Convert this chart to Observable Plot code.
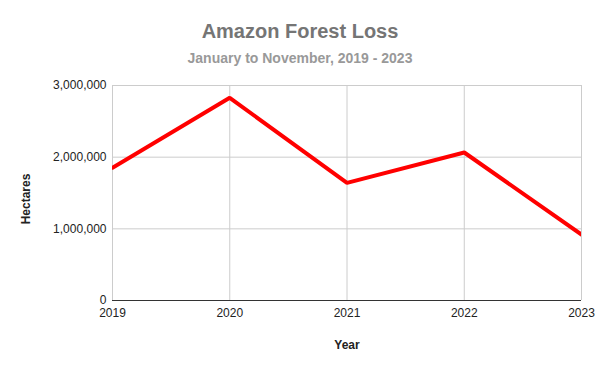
<!DOCTYPE html>
<html>
<head>
<meta charset="utf-8">
<script src="https://cdn.jsdelivr.net/npm/d3@7"></script>
<script src="https://cdn.jsdelivr.net/npm/@observablehq/plot@0.6"></script>
<style>
  body { margin: 0; background: #fff; font-family: Arial, "Liberation Sans", sans-serif; }
  #wrap { position: relative; width: 600px; height: 371px; overflow: hidden; }
  #title { position: absolute; left: 0; width: 600px; top: 20px; text-align: center;
           font-size: 20px; font-weight: bold; color: #757575; line-height: 22px; }
  #subtitle { position: absolute; left: 0; width: 600px; top: 50px; text-align: center;
           font-size: 14px; font-weight: bold; color: #999999; line-height: 16px; }
  #chart { position: absolute; left: 0; top: 70px; }
</style>
</head>
<body>
<div id="wrap">
  <div id="title">Amazon Forest Loss</div>
  <div id="subtitle">January to November, 2019 - 2023</div>
  <div id="chart"></div>
</div>
<script>
const years = [2019, 2020, 2021, 2022, 2023];
const hectares = [1852000, 2828000, 1642000, 2065000, 921000];
const yTicks = [0, 1000000, 2000000, 3000000];
const xLabel = "Year";
const yLabel = "Hectares";

const data = years.map((y, i) => ({year: y, value: hectares[i]}));

const chart = Plot.plot({
  width: 600,
  height: 301,
  marginTop: 15,
  marginLeft: 112,
  marginRight: 19,
  marginBottom: 71,
  style: {fontFamily: "Arial, 'Liberation Sans', sans-serif", fontSize: "12px", color: "#222", background: "transparent"},
  x: {domain: [2019, 2023], label: null},
  y: {domain: [0, 3000000], label: null},
  marks: [
    Plot.gridX(years, {stroke: "#cccccc", strokeOpacity: 1}),
    Plot.gridY(yTicks, {stroke: "#cccccc", strokeOpacity: 1}),
    Plot.ruleY([0], {stroke: "#333333", strokeWidth: 1}),
    Plot.line(data, {x: "year", y: "value", stroke: "#ff0000", strokeWidth: 4, strokeLinejoin: "miter", clip: true}),
    Plot.axisX(years, {tickSize: 0, tickPadding: 8, tickFormat: d => String(d), fill: "#222", label: null}),
    Plot.axisY(yTicks, {tickSize: 0, tickPadding: 6, tickFormat: d3.format(","), fill: "#222", label: null}),
    Plot.text([xLabel], {text: d => d, frameAnchor: "bottom", lineAnchor: "middle", textAnchor: "middle", dy: 45, fontWeight: "bold", fill: "#222", fontSize: 12}),
    Plot.text([yLabel], {text: d => d, frameAnchor: "left", lineAnchor: "middle", textAnchor: "middle", dx: -86, dy: 6, rotate: -90, fontWeight: "bold", fill: "#222", fontSize: 12})
  ]
});
document.getElementById("chart").appendChild(chart);
</script>
</body>
</html>
